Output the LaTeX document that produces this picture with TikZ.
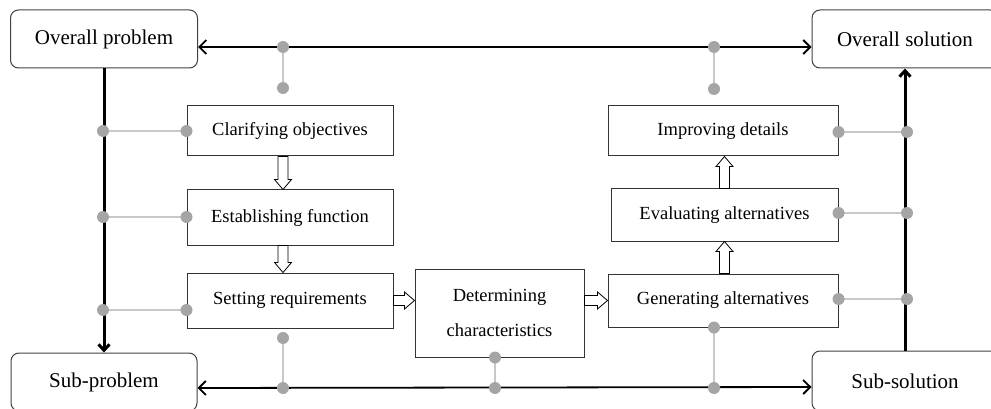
\documentclass[tikz,border=0pt]{standalone}
\usepackage{fontspec}
\setmainfont{Liberation Serif}
\usepackage{tikz}
\usetikzlibrary{arrows.meta,calc}
\definecolor{dotgray}{RGB}{165,165,165}
\definecolor{linegray}{RGB}{200,200,200}

\tikzset{
  corner/.style={draw=black!75, line width=1pt, rounded corners=8pt, inner sep=0pt,
    font=\fontsize{21}{25}\selectfont},
  stage/.style={draw=black!80, line width=1pt, inner sep=0pt,
    font=\fontsize{18.5}{22}\selectfont},
  mainline/.style={line width=1.8pt, {Straight Barb[length=7pt,width=14pt]}-{Straight Barb[length=7pt,width=14pt]}},
  updown/.style={line width=3pt, -{Straight Barb[length=6pt,width=11pt]}},
  link/.style={linegray, line width=1.6pt},
  hollow/.style={draw=black, fill=white, line width=0.8pt,
    to path={let \p1=(\tikztostart), \p2=(\tikztotarget),
      \n1={atan2(\y2-\y1,\x2-\x1)}, \n2={veclen(\x2-\x1,\y2-\y1)-10pt} in
      ($(\p1)+(\n1+90:5pt)$) -- ($(\p1)+(\n1:\n2)+(\n1+90:5pt)$)
      -- ($(\p1)+(\n1:\n2)+(\n1+90:8.5pt)$) -- (\p2)
      -- ($(\p1)+(\n1:\n2)+(\n1-90:8.5pt)$) -- ($(\p1)+(\n1:\n2)+(\n1-90:5pt)$)
      -- ($(\p1)+(\n1-90:5pt)$) -- cycle}}
}

\begin{document}
\begin{tikzpicture}[x=1pt, y=-1pt]
  \useasboundingbox (0,0) rectangle (991,409);

  % corner boxes
  \node[corner, minimum width=187pt, minimum height=58pt] (oprob) at (104,39) {Overall problem};
  \node[corner, minimum width=186pt, minimum height=58pt] (osol) at (905,39) {Overall solution};
  \node[corner, minimum width=186pt, minimum height=58pt] (subp) at (104,382) {Sub-problem};
  \node[corner, minimum width=186pt, minimum height=60pt] (subs) at (905,381) {Sub-solution};

  % design stages
  \node[stage, minimum width=206pt, minimum height=50pt] (clar) at (290,131) {Clarifying objectives};
  \node[stage, minimum width=206pt, minimum height=55pt] (estab) at (290,217.5) {Establishing function};
  \node[stage, minimum width=206pt, minimum height=55pt] (setreq) at (290,300.5) {Setting requirements};
  \node[stage, minimum width=169pt, minimum height=88pt, align=center,
    font=\fontsize{18.5}{35}\selectfont] (determ) at (499.5,313) {Determining\\characteristics};
  \node[stage, minimum width=230pt, minimum height=53pt] (gen) at (723,300.5) {Generating alternatives};
  \node[stage, minimum width=227pt, minimum height=52pt] (eval) at (724.5,215) {Evaluating alternatives};
  \node[stage, minimum width=230pt, minimum height=50pt] (impr) at (723,131) {Improving details};

  % hollow arrows
  \draw[hollow] ([xshift=-7pt]clar.south) to ([xshift=-7pt]estab.north);
  \draw[hollow] ([xshift=-7pt]estab.south) to ([xshift=-7pt]setreq.north);
  \draw[hollow] (setreq.east) to (setreq.east -| determ.west);
  \draw[hollow] (determ.east |- gen.west) to (gen.west);
  \draw[hollow] (gen.north -| eval.north) to (eval.south);
  \draw[hollow] (eval.north) to (impr.south -| eval.north);

  % main lines
  \draw[mainline] ([yshift=-8pt]oprob.east) -- ([yshift=-8pt]osol.west);
  \draw[mainline] ([yshift=-6pt]subp.east) -- ([yshift=-6pt]subs.west);
  \draw[updown] (oprob.south) -- (subp.north);
  \draw[updown] (subs.north) -- (osol.south);

  % connection points
  \coordinate (ta) at (283,47);  \coordinate (tb) at (283,88);
  \coordinate (tc) at (714,47);  \coordinate (td) at (714,89);
  \coordinate (l1) at (103,131); \coordinate (c1) at (clar.west |- l1);
  \coordinate (l2) at (103,217); \coordinate (c2) at (estab.west |- l2);
  \coordinate (l3) at (103,310); \coordinate (c3) at (setreq.west |- l3);
  \coordinate (r1) at (907,132); \coordinate (c4) at (impr.east |- r1);
  \coordinate (r2) at (907,213); \coordinate (c5) at (eval.east |- r2);
  \coordinate (r3) at (907,299); \coordinate (c6) at (gen.east |- r3);
  \coordinate (ba) at (283,338); \coordinate (bb) at (283,388);
  \coordinate (bc) at (determ.south -| 495,0); \coordinate (bd) at (495,388);
  \coordinate (be) at (gen.south -| 714,0); \coordinate (bf) at (714,388);

  \foreach \a/\b in {ta/tb, tc/td, l1/c1, l2/c2, l3/c3, r1/c4, r2/c5, r3/c6, ba/bb, bc/bd, be/bf}
    \draw[link] (\a) -- (\b);
  \foreach \p in {ta, tb, tc, td, l1, c1, l2, c2, l3, c3, r1, c4, r2, c5, r3, c6, ba, bb, bc, bd, be, bf}
    \fill[dotgray] (\p) circle (6pt);

\end{tikzpicture}
\end{document}
